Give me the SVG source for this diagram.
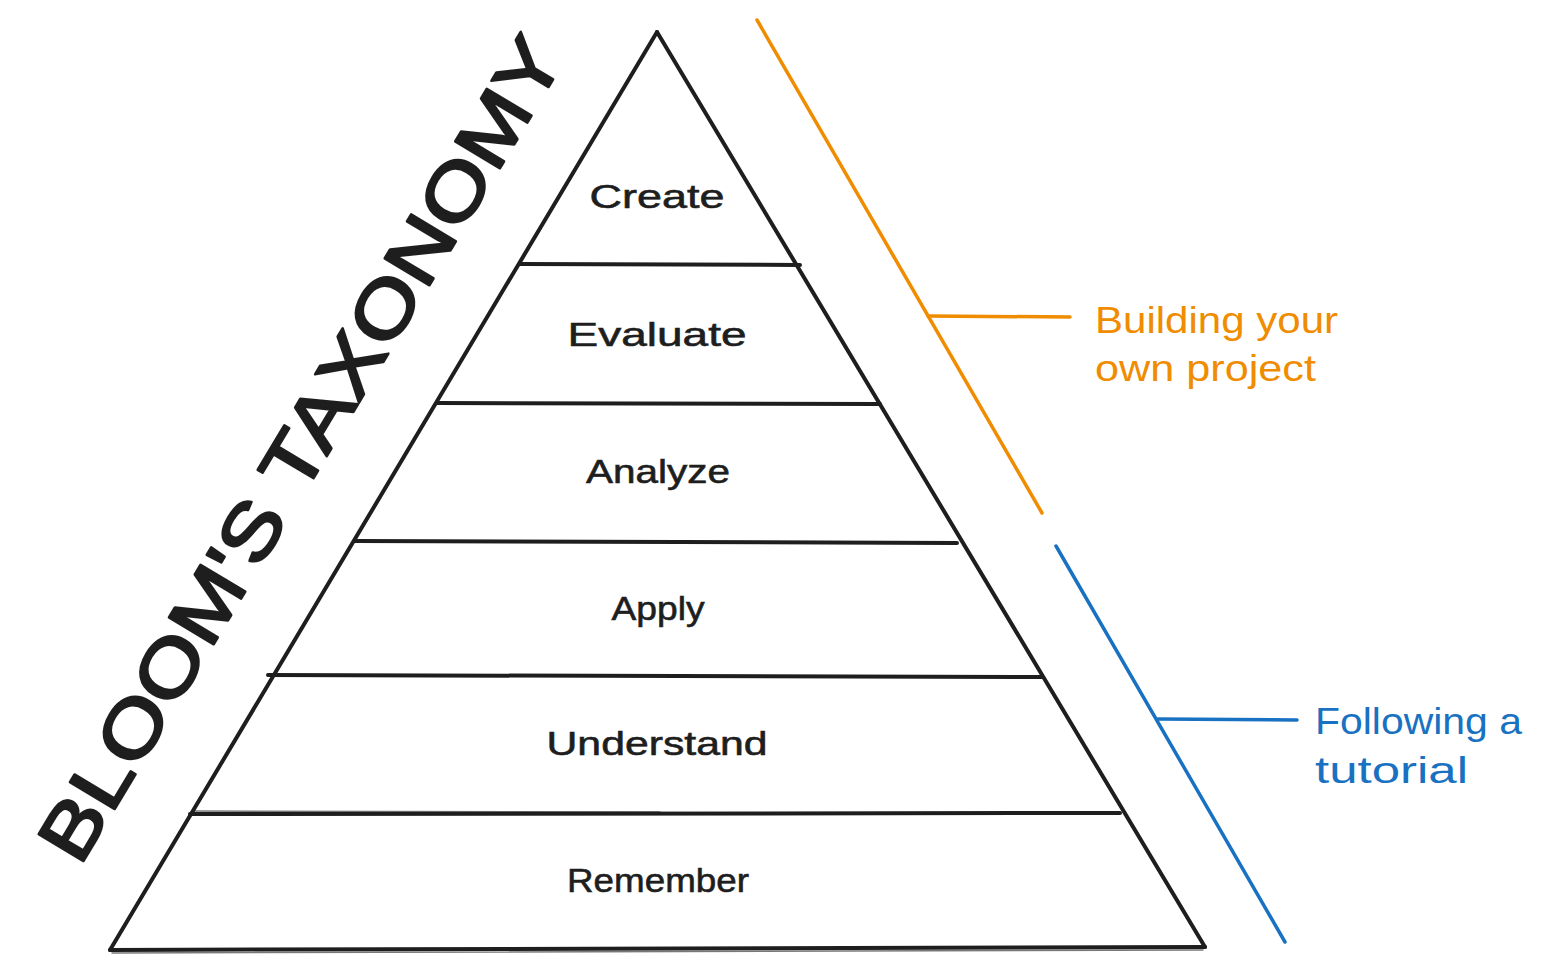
<svg xmlns="http://www.w3.org/2000/svg" width="1542" height="973" viewBox="0 0 1542 973">
  <style>
    .ink { stroke: #1e1e1e; stroke-width: 4; stroke-linecap: round; fill: none; }
    .ink-thin { stroke: #1e1e1e; stroke-width: 1.5; stroke-linecap: round; fill: none; opacity: 0.6; }
    .lvl { font-family: "Liberation Sans", "DejaVu Sans", sans-serif; font-size: 34px; fill: #1e1e1e; text-anchor: middle; stroke: #1e1e1e; stroke-width: 0.6; }
    .title { font-family: "Liberation Sans", "DejaVu Sans", sans-serif; font-size: 76px; fill: #1e1e1e; text-anchor: middle; stroke: #1e1e1e; stroke-width: 2.5; stroke-linejoin: round; }
    .orange { stroke: #f08c00; stroke-width: 3.5; stroke-linecap: round; fill: none; }
    .blue { stroke: #1971c2; stroke-width: 3.5; stroke-linecap: round; fill: none; }
    .lbl-o { font-family: "Liberation Sans", "DejaVu Sans", sans-serif; font-size: 36px; fill: #f08c00; }
    .lbl-b { font-family: "Liberation Sans", "DejaVu Sans", sans-serif; font-size: 36px; fill: #1971c2; }
  </style>
  <rect width="1542" height="973" fill="#ffffff"/>

  <!-- pyramid outline -->
  <g id="pyramid">
    <path class="ink" d="M657 32 L110 950"/>
    <path class="ink" d="M657 32 L1205 947"/>
    <path class="ink" d="M110 950 L1205 947"/>
    <path class="ink-thin" d="M112 953 L1203 950"/>
  </g>

  <!-- level dividers -->
  <g id="dividers">
    <path class="ink" d="M520 264 L800 265"/>
    <path class="ink" d="M437 403 L880 404"/>
    <path class="ink" d="M355 541 L957 543"/>
    <path class="ink" d="M268 675 L1042 677"/>
    <path class="ink" d="M190 814 L1120 813"/>
    <path class="ink-thin" d="M192 811 L660 812"/>
  </g>

  <g id="level-create"><text class="lvl" x="657" y="208" textLength="135" lengthAdjust="spacingAndGlyphs">Create</text></g>
  <g id="level-evaluate"><text class="lvl" x="657" y="346" textLength="179" lengthAdjust="spacingAndGlyphs">Evaluate</text></g>
  <g id="level-analyze"><text class="lvl" x="658" y="483" textLength="144" lengthAdjust="spacingAndGlyphs">Analyze</text></g>
  <g id="level-apply"><text class="lvl" x="658" y="620" textLength="93" lengthAdjust="spacingAndGlyphs">Apply</text></g>
  <g id="level-understand"><text class="lvl" x="657" y="755" textLength="221" lengthAdjust="spacingAndGlyphs">Understand</text></g>
  <g id="level-remember"><text class="lvl" x="658" y="892" textLength="182" lengthAdjust="spacingAndGlyphs">Remember</text></g>

  <!-- title along the left slope -->
  <g id="title" transform="translate(306 452) rotate(-59)">
    <text class="title" x="0" y="20" textLength="945" lengthAdjust="spacingAndGlyphs">BLOOM'S TAXONOMY</text>
  </g>

  <!-- bracket lines -->
  <g id="connectors">
    <path class="orange" d="M757 20 L1042 513"/>
    <path class="orange" d="M928 316 L1070 317"/>
    <path class="blue" d="M1056 546 L1285 942"/>
    <path class="blue" d="M1158 719 L1297 720"/>
  </g>

  <g id="label-project">
    <text class="lbl-o" x="1095" y="333" textLength="243" lengthAdjust="spacingAndGlyphs">Building your</text>
    <text class="lbl-o" x="1095" y="381" textLength="221" lengthAdjust="spacingAndGlyphs">own project</text>
  </g>
  <g id="label-tutorial">
    <text class="lbl-b" x="1315" y="734" textLength="207" lengthAdjust="spacingAndGlyphs">Following a</text>
    <text class="lbl-b" x="1315" y="783" textLength="153" lengthAdjust="spacingAndGlyphs">tutorial</text>
  </g>
</svg>
